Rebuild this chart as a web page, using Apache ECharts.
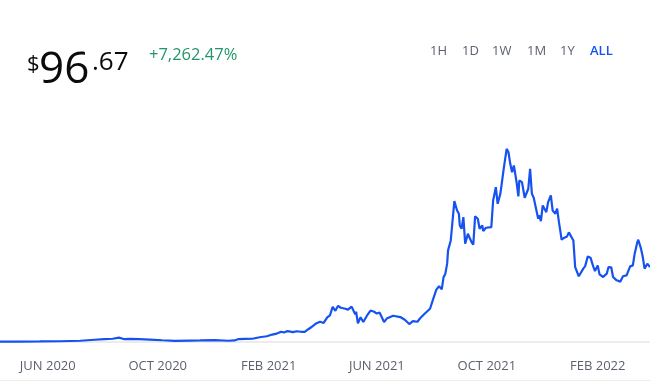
<!DOCTYPE html>
<html>
<head>
<meta charset="utf-8">
<script src="https://cdn.jsdelivr.net/npm/echarts@6/dist/echarts.min.js"></script>
<style>
html,body{margin:0;padding:0;background:#fff;}
#chart{width:650px;height:390px;}
</style>
</head>
<body>
<div id="chart"></div>
<script>
// ---- data ----
const START_DATE = '2020-04-09';
const END_DAY = 721;
const dayOffsets = [0,22,44,67,89,105,116,125,132,138,
144,155,166,180,194,211,222,238,253,260,
264,272,280,288,296,302,307,312,315,319,
325,329,334,338,342,346,350,355,359,363,
366,369,372,375,378,383,386,390,394,395,
397,400,403,407,411,415,418,421,426,429,
436,444,449,454,458,463,466,471,477,480,
484,487,490,492,494,496,497,500,504,507,
509,510,512,514,516,519,523,525,527,530,
532,535,536,539,541,545,547,550,552,555,
557,559,562,564,566,568,570,573,575,576,
579,582,586,588,590,592,594,597,598,600,
602,606,608,611,613,616,618,620,623,626,
629,631,636,638,642,647,649,652,655,658,
660,663,665,669,671,673,675,678,680,684,
688,691,693,695,699,702,704,707,708,711,
713,715,718,721];
const prices = [0.9,0.9,1.0,1.3,1.9,3.2,4.1,4.5,5.9,3.9,
4.3,3.9,3.5,2.6,1.8,2.2,2.3,2.8,1.9,2.3,
3.9,4.3,4.5,6.4,7.7,9.9,11.2,13.5,12.5,14.4,
13.1,14.2,13.5,13.3,16.8,20.0,23.8,26.4,24.9,32.2,
34.8,45.7,40.6,47.0,44.5,43.2,42.1,46.0,36.1,39.3,
24.5,32.2,26.2,34.2,40.9,39.3,37.0,38.3,26.2,30.5,
34.2,32.5,29.0,23.5,27.3,26.4,30.9,36.7,43.2,54.1,
67.9,72.2,68.3,83.8,88.5,101.4,118.6,131.4,182.1,170.1,
165.9,150.8,146.5,161.5,127.2,140.1,129.3,125.9,162.4,159.4,
146.5,150.8,143.4,147.8,149.6,148.6,183.0,200.1,178.7,191.6,
192.4,225.9,249.6,245.2,230.3,219.5,228.1,206.6,188.2,208.8,
206.6,186.5,198.1,223.8,191.6,186.5,185.2,159.4,163.7,156.3,
176.5,167.9,180.8,189.4,170.1,165.9,172.3,155.0,132.3,134.9,
136.6,141.8,131.4,97.0,85.1,95.0,97.9,110.8,109.2,97.9,
91.9,99.2,87.6,84.2,86.3,88.5,97.0,96.7,84.2,79.9,
78.2,85.1,86.3,86.3,97.9,99.2,114.3,129.3,132.3,120.8,
109.9,95.0,101.4,97.0];
const tickDates = ['2020-06-01','2020-10-01','2021-02-01','2021-06-01','2021-10-01','2022-02-01'];
const tickLabels = ['JUN 2020','OCT 2020','FEB 2021','JUN 2021','OCT 2021','FEB 2022'];
const priceWhole = '96';
const priceCents = '.67';
const changeText = '+7,262.47%';
const ranges = ['1H','1D','1W','1M','1Y','ALL'];

// ---- build ----
const DAY = 86400000;
function utc(s){const p=s.split('-').map(Number);return Date.UTC(p[0],p[1]-1,p[2]);}
const startMs = utc(START_DATE);
const seriesData = dayOffsets.map((d,i)=>[d, prices[i]]);
const tickDays = tickDates.map(s=>Math.round((utc(s)-startMs)/DAY));

const chart = echarts.init(document.getElementById('chart'), null, {renderer:'canvas'});
const FONT = '"Open Sans", "Noto Sans", sans-serif';
const rangeX = [430,462,492,527,560,590];
const graphics = [
  {type:'text', left:27, top:54, style:{text:'$', font:'400 22px '+FONT, fill:'#0a0b0d'}},
  {type:'text', left:39, top:48, style:{text:priceWhole, font:'400 44px '+FONT, fill:'#0a0b0d'}},
  {type:'text', left:92, top:50, style:{text:priceCents, font:'400 26px '+FONT, fill:'#0a0b0d'}},
  {type:'text', left:149, top:47, style:{text:changeText, font:'400 16.5px '+FONT, fill:'#21966a'}},
  {type:'line', shape:{x1:0,y1:380.5,x2:650,y2:380.5}, style:{stroke:'#ececec', lineWidth:1}}
];
ranges.forEach((r,i)=>{
  const isAll = r==='ALL';
  graphics.push({type:'text', left:rangeX[i], top:45,
    style:{text:r, font:(isAll?'600 ':'500 ')+'13px '+FONT, fill: isAll?'#1652f0':'#5b616e'}});
});

chart.setOption({
  animation:false,
  grid:{left:0,right:0,top:109.8,bottom:43.5,containLabel:false},
  xAxis:{
    type:'value',
    min:0, max:END_DAY,
    axisLine:{show:true, lineStyle:{color:'#ececec', width:2}},
    axisTick:{show:false},
    splitLine:{show:false},
    axisLabel:{
      customValues: tickDays,
      margin:13,
      color:'#5b616e',
      fontSize:13,
      fontFamily:FONT,
      fontWeight:500,
      formatter:function(v){const i=tickDays.indexOf(v);return i>=0?tickLabels[i]:'';}
    }
  },
  yAxis:{type:'value', min:-5.5, max:300, show:false, splitLine:{show:false}},
  series:[{
    type:'line', data:seriesData, showSymbol:false, symbol:'none',
    lineStyle:{color:'#1652f0', width:2.2}, clip:false
  }],
  graphic: graphics
});
</script>
</body>
</html>
